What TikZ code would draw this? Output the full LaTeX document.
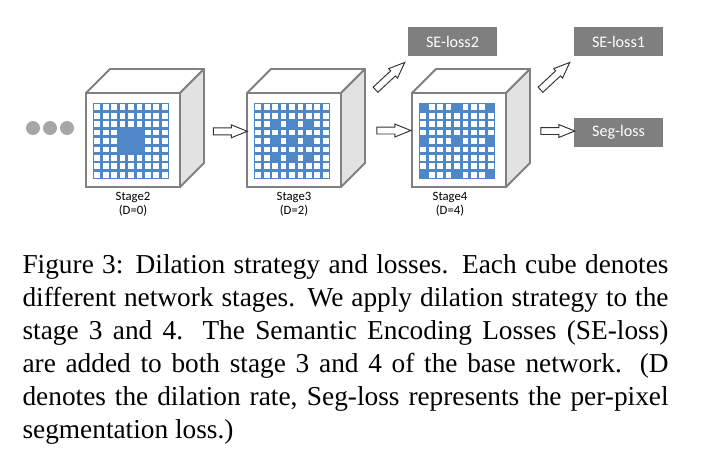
\documentclass[tikz,border=0pt]{standalone}
\usepackage{fontspec}
\setmainfont{Liberation Serif}
\newfontfamily\calibri{Carlito}
\usetikzlibrary{shapes.arrows,positioning}

\definecolor{gridblue}{RGB}{79,135,200}
\definecolor{edgegray}{RGB}{128,128,128}
\definecolor{sidegray}{RGB}{226,226,226}
\definecolor{lossgray}{RGB}{127,127,127}
\definecolor{dotgray}{RGB}{166,166,166}

\newdimen\pxu
\pxu=0.366pt

% cube of one stage: name, left x, dilation step
\newcommand{\stagecube}[3]{%
  \node[cubefront] (#1) at (#2+47,140) {};
  \draw[cubeedge,fill=white] (#1.north west)--++(24,-24)--++(94,0)--(#1.north east)--cycle;
  \draw[cubeedge,fill=sidegray] (#1.north east)--++(24,-24)--++(0,94)--(#1.south east)--cycle;
  \fill[gridblue] (#2+7,103) rectangle ++(76,76);
  \foreach \i in {0,...,8}{
    \foreach \j in {0,...,8}{
      \pgfmathtruncatemacro\hit{(mod(abs(\i-4),#3)==0)&&(abs(\i-4)<=#3)&&(mod(abs(\j-4),#3)==0)&&(abs(\j-4)<=#3)}
      \ifnum\hit=0
        \fill[white] (#2+7+\i*8.444+1.3,103+\j*8.444+1.3) rectangle ++(5.84,5.84);
      \fi
    }
  }
}

\begin{document}
\begin{tikzpicture}[x=\pxu,y=-\pxu]
    \tikzstyle{every node} = [font=\calibri]
    \tikzstyle{cubefront} = [draw=edgegray, line width=0.7pt, fill=white, inner sep=0, outer sep=0, minimum width=94\pxu, minimum height=94\pxu]
    \tikzstyle{cubeedge} = [draw=edgegray, line width=0.7pt, line join=round]
    \tikzstyle{stagelabel} = [align=center, inner sep=0, font=\calibri\fontsize{4.65}{5.1}\selectfont]
    \tikzstyle{hollow} = [single arrow, draw=black!80, fill=white, line width=0.35pt, inner xsep=0, inner ysep=3\pxu, single arrow head extend=3\pxu, single arrow tip angle=44, minimum height=34\pxu]
    \tikzstyle{lossbox} = [fill=lossgray, text=white, inner sep=0, minimum width=89\pxu, minimum height=29\pxu, font=\calibri\fontsize{5.9}{7}\selectfont]
    \tikzstyle{dot} = [circle, fill=dotgray, inner sep=0, minimum size=14\pxu]
    \useasboundingbox (0,0) rectangle (711,470);

    % earlier stages
    \node[dot] (dotA) at (33,128) {};
    \node[dot] (dotB) at (50,128) {};
    \node[dot] (dotC) at (67,128) {};

    % place cubes
    \stagecube{stage2}{86}{1}
    \stagecube{stage3}{247}{2}
    \stagecube{stage4}{412}{4}

    \node[stagelabel,below=5\pxu of stage2] (stage2lbl) {Stage2\\(D=0)};
    \node[stagelabel,below=5\pxu of stage3] (stage3lbl) {Stage3\\(D=2)};
    \node[stagelabel,below=5\pxu of stage4,xshift=-9\pxu] (stage4lbl) {Stage4\\(D=4)};

    % losses
    \node[lossbox] (seloss2) at (452.5,41.5) {SE-loss2};
    \node[lossbox] (seloss1) at (618.5,41.5) {SE-loss1};
    \node[lossbox] (segloss) at (618.5,132.5) {Seg-loss};

    % Connections
    \node[hollow] (s2to3) at (226,131.3) {};
    \node[hollow] (s3to4) at (389.5,130.5) {};
    \node[hollow] (s4seg) at (553.5,131) {};
    \node[hollow,rotate=43,minimum height=40\pxu] (s3se) at (387,79) {};
    \node[hollow,rotate=43,minimum height=40\pxu] (s4se) at (552,79) {};

    % caption
    \node[anchor=base west, text width=646\pxu, align=justify, inner sep=0, font=\rmfamily\fontsize{10}{12.1}\selectfont] (caption) at (22,273)
    {Figure 3: Dilation strategy and losses. Each cube denotes\linebreak
    different network stages. We apply dilation strategy to the\linebreak
    stage 3 and 4. The Semantic Encoding Losses (SE-loss)\linebreak
    are added to both stage 3 and 4 of the base network. (D\linebreak
    denotes the dilation rate, Seg-loss represents the per-pixel\linebreak
    segmentation loss.)};
\end{tikzpicture}
\end{document}
